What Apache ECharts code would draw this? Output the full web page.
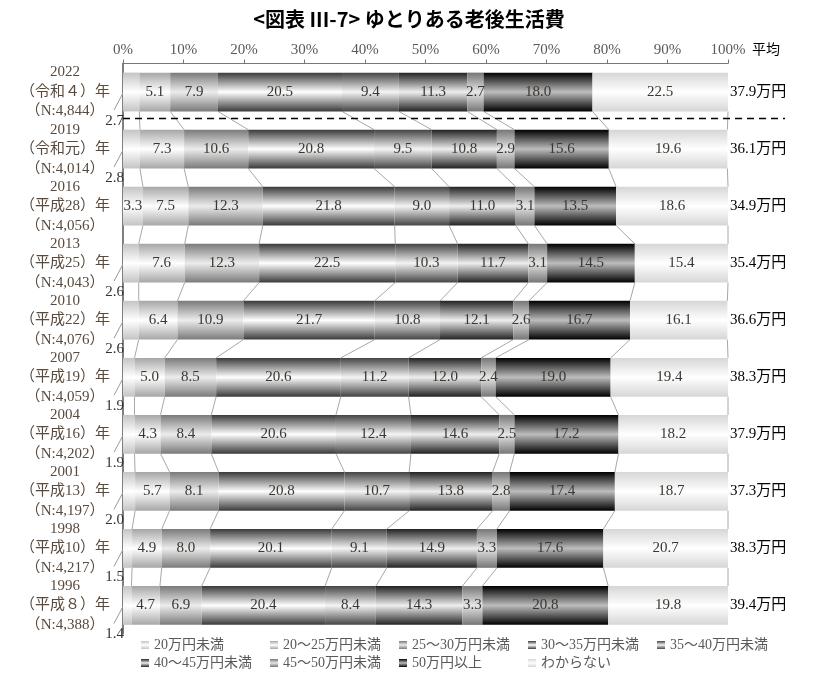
<!DOCTYPE html>
<html>
<head>
<meta charset="utf-8">
<script src="https://cdn.jsdelivr.net/npm/echarts@6/dist/echarts.min.js"></script>
<style>html,body{margin:0;padding:0;background:#fff;}#c{width:818px;height:682px;}</style>
</head>
<body>
<div id="c"></div>
<script>
// ---- data ----
const years = ['2022','2019','2016','2013','2010','2007','2004','2001','1998','1996'];
const eras = ['令和４','令和元','平成28','平成25','平成22','平成19','平成16','平成13','平成10','平成８'];
const counts = ['4,844','4,014','4,056','4,043','4,076','4,059','4,202','4,197','4,217','4,388'];
const averages = [37.9, 36.1, 34.9, 35.4, 36.6, 38.3, 37.9, 37.3, 38.3, 39.4];
const seriesNames = ['20万円未満','20～25万円未満','25～30万円未満','30～35万円未満','35～40万円未満','40～45万円未満','45～50万円未満','50万円以上','わからない'];
const under20 = [2.7, 2.8, 3.3, 2.6, 2.6, 1.9, 1.9, 2.0, 1.5, 1.4];
const r20to25 = [5.1, 7.3, 7.5, 7.6, 6.4, 5.0, 4.3, 5.7, 4.9, 4.7];
const r25to30 = [7.9, 10.6, 12.3, 12.3, 10.9, 8.5, 8.4, 8.1, 8.0, 6.9];
const r30to35 = [20.5, 20.8, 21.8, 22.5, 21.7, 20.6, 20.6, 20.8, 20.1, 20.4];
const r35to40 = [9.4, 9.5, 9.0, 10.3, 10.8, 11.2, 12.4, 10.7, 9.1, 8.4];
const r40to45 = [11.3, 10.8, 11.0, 11.7, 12.1, 12.0, 14.6, 13.8, 14.9, 14.3];
const r45to50 = [2.7, 2.9, 3.1, 3.1, 2.6, 2.4, 2.5, 2.8, 3.3, 3.3];
const over50 = [18.0, 15.6, 13.5, 14.5, 16.7, 19.0, 17.2, 17.4, 17.6, 20.8];
const unknown = [22.5, 19.6, 18.6, 15.4, 16.1, 19.4, 18.2, 18.7, 20.7, 19.8];
const xTicks = [0, 10, 20, 30, 40, 50, 60, 70, 80, 90, 100];

const seriesValues = [under20, r20to25, r25to30, r30to35, r35to40, r40to45, r45to50, over50, unknown];
const categories = years.map((y, i) => y + '\n（' + eras[i] + '）年\n（N:' + counts[i] + '）');
const avgLabels = averages.map(v => v.toFixed(1) + '万円');

// ---- styles ----
const FONT = "'Liberation Serif', 'Noto Sans CJK JP', serif";
const edgeColors = ['#c4c4c4','#a6a6a6','#7a7a7a','#3a3a3a','#444444','#222222','#767676','#000000','#d6d6d6'];
const midColors  = ['#ffffff','#ffffff','#ececec','#ffffff','#f4f4f4','#eeeeee','#e6e6e6','#bdbdbd','#ffffff'];
const BAR_RATIO = 0.68;
const OUTSIDE_LIMIT = 3;
const LEGEND_COLS = 5;

function grad(k) {
  return { type: 'linear', x: 0, y: 0, x2: 0, y2: 1,
    colorStops: [
      { offset: 0, color: edgeColors[k] },
      { offset: 0.5, color: midColors[k] },
      { offset: 1, color: edgeColors[k] }
    ] };
}
function cumRow(i) {
  const c = [0];
  let s = 0;
  seriesValues.forEach(arr => { s += arr[i]; c.push(Math.min(100, s)); });
  return c;
}

const barSeries = seriesNames.map((name, k) => ({
  name: name,
  type: 'bar',
  stack: 'total',
  barCategoryGap: '32%',
  data: seriesValues[k],
  itemStyle: { color: grad(k) },
  label: {
    show: true, position: 'inside', color: '#3c3630', fontSize: 15, fontFamily: FONT,
    formatter: p => (k === 0 && p.value < OUTSIDE_LIMIT) ? '' : p.value.toFixed(1)
  },
  emphasis: { disabled: true },
  z: 3
}));

const n = years.length;
const decoSeries = {
  type: 'custom',
  name: 'deco',
  clip: false,
  silent: true,
  z: 2,
  data: years.map((y, i) => [0, i]),
  encode: { x: 0, y: 1 },
  renderItem: function (params, api) {
    const i = api.value(1);
    const band = api.size([0, 1])[1];
    const half = band * BAR_RATIO / 2;
    const children = [];
    const cA = cumRow(i);
    if (i < n - 1) {
      const cB = cumRow(i + 1);
      for (let k = 1; k < cA.length; k++) {
        const p1 = api.coord([cA[k], i]);
        const p2 = api.coord([cB[k], i + 1]);
        children.push({ type: 'line', shape: { x1: p1[0], y1: p1[1] + half, x2: p2[0], y2: p2[1] - half },
          style: { stroke: '#a8a8a8', lineWidth: 1 } });
      }
    }
    if (under20[i] < OUTSIDE_LIMIT) {
      const p = api.coord([0, i]);
      children.push({ type: 'line', shape: { x1: p[0], y1: p[1] + 1, x2: p[0] - 9, y2: p[1] + 18 },
        style: { stroke: '#9a9a9a', lineWidth: 1 } });
      children.push({ type: 'text', x: p[0] + 1, y: p[1] + 29,
        style: { text: under20[i].toFixed(1), align: 'right', verticalAlign: 'middle',
          fill: '#333333', fontSize: 15, fontFamily: FONT } });
    }
    if (i === 0) {
      const a = api.coord([0, 0]);
      const b = api.coord([100, 1]);
      const y = (a[1] + b[1]) / 2 - 2;
      children.push({ type: 'line', shape: { x1: a[0], y1: y, x2: b[0] + 57, y2: y },
        style: { stroke: '#000', lineWidth: 1.5, lineDash: [7, 5] } });
    }
    return { type: 'group', children: children };
  }
};

const legends = [];
for (let c = 0; c < LEGEND_COLS; c++) {
  const items = seriesNames.filter((s, j) => j % LEGEND_COLS === c);
  legends.push({
    data: items, orient: 'vertical', left: 136 + 129 * c, top: 633,
    icon: 'rect', itemWidth: 8, itemHeight: 8, itemGap: 4,
    textStyle: { color: '#595959', fontSize: 14, fontFamily: FONT },
    selectedMode: false
  });
}

const chart = echarts.init(document.getElementById('c'), null, { renderer: 'canvas' });
chart.setOption({
  backgroundColor: '#ffffff',
  animation: false,
  title: [
    { text: '<図表 III-7> ゆとりある老後生活費', left: 'center', top: 4,
      textStyle: { fontSize: 20, fontWeight: 'bold', color: '#000', fontFamily: "'Noto Sans CJK JP', sans-serif" } },
    { text: '平均', left: 747, top: 37,
      textStyle: { fontSize: 14, fontWeight: 'normal', color: '#000', fontFamily: "'Noto Sans CJK JP', sans-serif" } }
  ],
  grid: { left: 123, right: 90, top: 63.5, bottom: 48, containLabel: false },
  legend: legends,
  xAxis: {
    type: 'value', position: 'top', min: 0, max: 100, interval: 10,
    axisLabel: { formatter: v => (xTicks.indexOf(v) >= 0 ? v + '%' : ''), color: '#595959', fontSize: 15, fontFamily: FONT, margin: 6 },
    axisLine: { show: true, lineStyle: { color: '#777', width: 1 } },
    axisTick: { show: true, length: 4, lineStyle: { color: '#777' } },
    splitLine: { show: false }
  },
  yAxis: [
    {
      type: 'category', inverse: true, data: categories,
      axisLine: { show: true, lineStyle: { color: '#555', width: 1.5 } },
      axisTick: { show: false },
      axisLabel: { interval: 0, align: 'center', margin: 58, lineHeight: 19.5, color: '#5a4a3c', fontSize: 15, fontFamily: FONT }
    },
    {
      type: 'category', inverse: true, position: 'right', data: avgLabels,
      axisLine: { show: false }, axisTick: { show: false },
      axisLabel: { interval: 0, align: 'left', margin: 2, color: '#000', fontSize: 15, fontFamily: FONT }
    }
  ],
  series: barSeries.concat([decoSeries])
});
</script>
</body>
</html>
